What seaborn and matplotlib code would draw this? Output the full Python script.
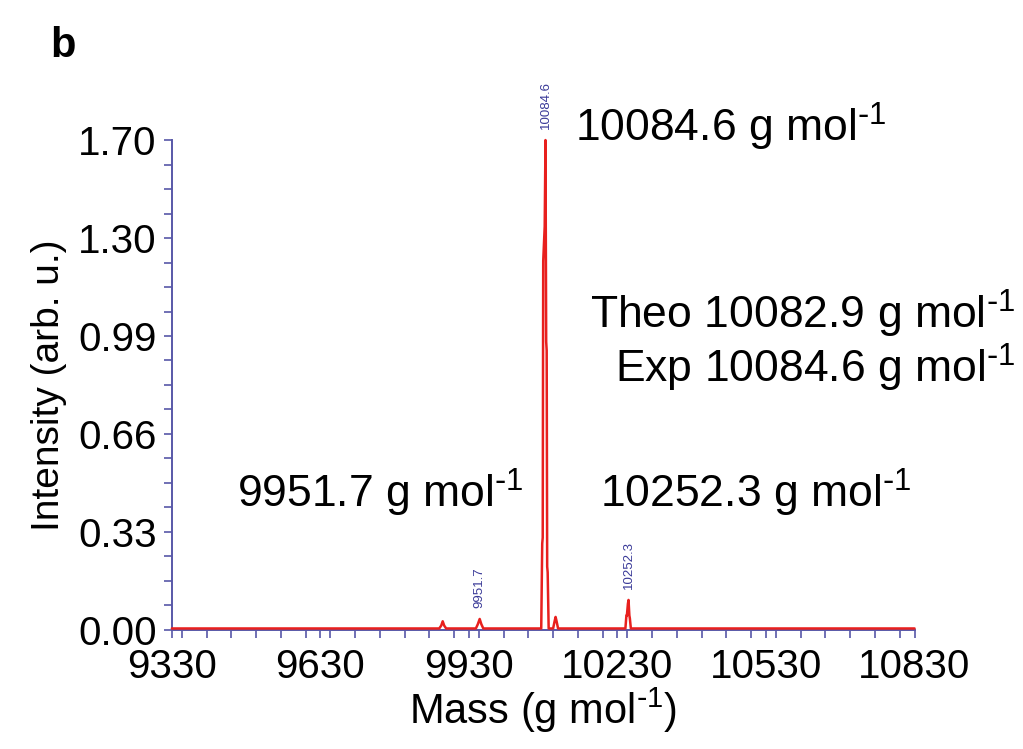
import numpy as np
import pandas as pd
import matplotlib
matplotlib.use("Agg")
import matplotlib.pyplot as plt
from matplotlib.ticker import MultipleLocator, FixedLocator, AutoMinorLocator
import seaborn as sns

# ---- data ----
mass = [9330, 9870, 9874, 9877, 9880, 9884, 9944, 9948, 9951.7, 9955, 9959,
        10076, 10078, 10079, 10080, 10081, 10083, 10084.6, 10086, 10087, 10088,
        10089, 10091, 10100, 10103, 10105, 10107, 10110, 10246, 10248, 10249,
        10251, 10252.3, 10254, 10255, 10257, 10830]
intensity = [0.005, 0.005, 0.015, 0.030, 0.015, 0.005, 0.005, 0.02, 0.038, 0.02, 0.005,
             0.005, 0.30, 0.32, 1.28, 1.32, 1.40, 1.70, 1.00, 0.97, 0.22,
             0.20, 0.005, 0.005, 0.03, 0.045, 0.03, 0.005, 0.005, 0.05, 0.05,
             0.09, 0.104, 0.05, 0.04, 0.005, 0.005]

peak_mass = [9951.7, 10084.6, 10252.3]
peak_height = [0.038, 1.70, 0.104]
peak_labels = ["9951.7", "10084.6", "10252.3"]

x_ticks = [9330, 9630, 9930, 10230, 10530, 10830]
y_tick_labels = ["0.00", "0.33", "0.66", "0.99", "1.30", "1.70"]

df = pd.DataFrame({"Mass": mass, "Intensity": intensity})

sns.set_theme(style="white")
plt.rcParams["font.family"] = ["Liberation Sans", "DejaVu Sans"]
plt.rcParams["mathtext.default"] = "regular"
plt.rcParams["text.color"] = "black"
plt.rcParams["axes.labelcolor"] = "black"
plt.rcParams["xtick.labelcolor"] = "black"
plt.rcParams["ytick.labelcolor"] = "black"

axis_blue = "#5858a8"
label_blue = "#3a3a98"
red = "#e8201e"
UNIT = " g mol$^{\\text{-}1}$"

fig = plt.figure(figsize=(10.23, 7.49), dpi=100)
ax = fig.add_axes([0.168, 0.159, 0.726, 0.654])

sns.lineplot(data=df, x="Mass", y="Intensity", ax=ax, color=red, linewidth=1.8,
             estimator=None, sort=False)
for ln in ax.lines:
    ln.set_clip_on(False)
    ln.set_zorder(5)

ax.set_xlim(9330, 10830)
ax.set_ylim(0, 1.70)

ax.xaxis.set_major_locator(FixedLocator(x_ticks))
ax.xaxis.set_minor_locator(MultipleLocator(50))
y_pos = np.linspace(0, 1.70, len(y_tick_labels))
ax.yaxis.set_major_locator(FixedLocator(y_pos))
ax.set_yticklabels(y_tick_labels)
ax.yaxis.set_minor_locator(AutoMinorLocator(4))

for s in ["top", "right"]:
    ax.spines[s].set_visible(False)
for s in ["left", "bottom"]:
    ax.spines[s].set_color(axis_blue)
    ax.spines[s].set_linewidth(1.4)

ax.tick_params(axis="both", which="both", direction="out", color=axis_blue,
               width=1.2, length=6, bottom=True, left=True)
ax.tick_params(axis="x", which="major", labelsize=29, pad=7, labelcolor="black")
ax.tick_params(axis="y", which="major", labelsize=29, pad=5, labelcolor="black")

ax.set_xlabel("Mass (g mol$^{\\text{-}1}$)", fontsize=30, labelpad=0, color="black")
ax.set_ylabel("Intensity (arb. u.)", fontsize=28, labelpad=8, color="black")

for m, h, lab in zip(peak_mass, peak_height, peak_labels):
    ax.annotate(lab, xy=(m, h), xytext=(0, 8), textcoords="offset points",
                rotation=90, ha="center", va="bottom", fontsize=9.5,
                color=label_blue, annotation_clip=False)

def ftext(xp, yp, s, ha="left", **kw):
    fig.text(xp / 1023, 1 - yp / 749, s, ha=ha, va="baseline", fontsize=32,
             color="black", **kw)

ftext(575, 142, "10084.6" + UNIT)
ftext(1015, 329, "Theo 10082.9" + UNIT, ha="right")
ftext(1015, 383, "Exp 10084.6" + UNIT, ha="right")
ftext(237, 508, "9951.7" + UNIT)
ftext(600, 508, "10252.3" + UNIT)

fig.text(50 / 1023, 1 - 57 / 749, "b", fontsize=30, fontweight="bold",
         ha="left", va="baseline", color="black")

fig.savefig("out.png", dpi=100)
